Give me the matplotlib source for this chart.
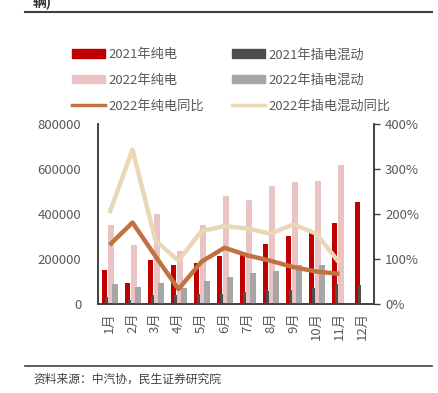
import matplotlib
matplotlib.use("Agg")
import matplotlib.pyplot as plt
import numpy as np
from matplotlib.patches import Patch
from matplotlib.lines import Line2D

plt.rcParams['font.family'] = ['Noto Sans CJK SC', 'DejaVu Sans']

months = ['1月', '2月', '3月', '4月', '5月', '6月', '7月', '8月', '9月', '10月', '11月', '12月']
bev_2021 = [151000, 93000, 194000, 173000, 181000, 215000, 222000, 267000, 301000, 316000, 361000, 452000]
phev_2021 = [31000, 18000, 38000, 38000, 43000, 44000, 52000, 58000, 62000, 70000, 90000, 84000]
bev_2022 = [350000, 261000, 399000, 234000, 350000, 479000, 462000, 523000, 542000, 545000, 618000, np.nan]
phev_2022 = [89000, 77000, 92000, 71000, 102000, 121000, 139000, 147000, 173000, 173000, np.nan, np.nan]
bev_yoy = [131, 181, 106, 33, 94, 125, 108, 96, 82, 72, 67, np.nan]
phev_yoy = [202, 343, 141, 96, 162, 173, 168, 156, 177, 156, 91, np.nan]

c_red = '#C00000'
c_dark = '#4D4D4F'
c_pink = '#EBC3C3'
c_lgray = '#A6A6A6'
c_brown = '#C07340'
c_beige = '#E9D7B6'
c_text = '#595959'

fig = plt.figure(figsize=(4.39, 3.93), dpi=100)
ax = fig.add_axes([98/439, 1-304/393, (374-98)/439, 180/393])
ax2 = ax.twinx()

x = np.arange(len(months))
ax.bar(x - 0.22, bev_2021, width=0.22, color=c_red, zorder=2)
ax.bar(x - 0.13, phev_2021, width=0.12, color=c_dark, zorder=3)
ax.bar(x + 0.06, bev_2022, width=0.22, color=c_pink, edgecolor='#D9AFAF', linewidth=0.4, zorder=2)
ax.bar(x + 0.24, phev_2022, width=0.22, color=c_lgray, zorder=3)

ax.set_xlim(-0.5, 11.5)
ax.set_ylim(0, 800000)
ax.set_yticks([0, 200000, 400000, 600000, 800000])
ax.set_yticklabels(['0', '200000', '400000', '600000', '800000'])
ax.set_xticks(x)
ax.set_xticklabels(months, rotation=90)
ax.tick_params(axis='y', length=0, labelsize=9.5, labelcolor=c_text, pad=12)
ax.tick_params(axis='x', length=0, labelsize=9.5, labelcolor=c_text, pad=6)

ax2.plot(x, bev_yoy, color=c_brown, lw=3.2, solid_capstyle='butt', zorder=4)
ax2.plot(x, phev_yoy, color=c_beige, lw=3.2, solid_capstyle='butt', zorder=5)
ax2.set_ylim(0, 400)
ax2.set_yticks([0, 100, 200, 300, 400])
ax2.set_yticklabels(['0%', '100%', '200%', '300%', '400%'])
ax2.tick_params(axis='y', length=4, width=1, color='#404040', labelsize=9.5, labelcolor=c_text, pad=4)

for a in (ax, ax2):
    a.spines['top'].set_visible(False)
    for s in ('left', 'right', 'bottom'):
        a.spines[s].set_color('#404040')
        a.spines[s].set_linewidth(1.2)

handles = [
    Patch(color=c_red), Patch(color=c_pink), Line2D([0], [0], color=c_brown, lw=2.5),
    Patch(color=c_dark), Patch(color=c_lgray), Line2D([0], [0], color=c_beige, lw=2.5),
]
labels = ['2021年纯电', '2022年纯电', '2022年纯电同比', '2021年插电混动', '2022年插电混动', '2022年插电混动同比']
leg = fig.legend(handles, labels, ncol=2, loc='upper left', bbox_to_anchor=(67/439, 1-43/393),
                 frameon=False, fontsize=9.5, handlelength=2.5, handleheight=0.6,
                 handletextpad=0.25, columnspacing=2.1, labelspacing=0.95, borderaxespad=0)
for t in leg.get_texts():
    t.set_color(c_text)

fig.text(33/439, 1-3/393, '辆)', fontsize=10, fontweight='bold', color='#333333', va='center', ha='left')
fig.add_artist(Line2D([25/439, 432/439], [1-12/393, 1-12/393], color='#404040', lw=1.5))
fig.add_artist(Line2D([25/439, 432/439], [1-366/393, 1-366/393], color='#404040', lw=1.2))
fig.text(33/439, 1-379/393, '资料来源：中汽协，民生证券研究院', fontsize=8.5, color='#404040', va='center', ha='left')

fig.savefig('out.png', dpi=100)
